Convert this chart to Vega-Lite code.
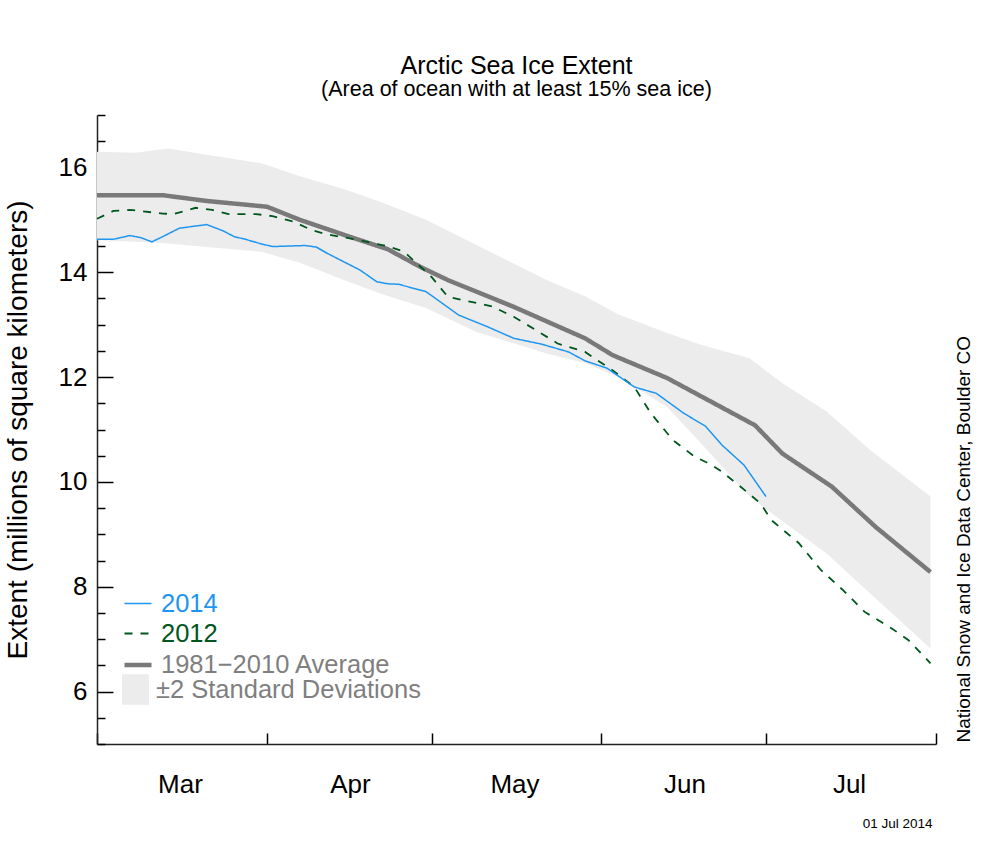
{
  "$schema": "https://vega.github.io/schema/vega-lite/v6.json",
  "width": 839,
  "height": 629,
  "autosize": {"type": "none"},
  "padding": {"left": 97, "top": 115, "right": 69, "bottom": 100},
  "background": "white",
  "config": {"font": "Liberation Sans", "view": {"stroke": null}, "axis": {"grid": false}},
  "title": {
    "text": "Arctic Sea Ice Extent",
    "subtitle": "(Area of ocean with at least 15% sea ice)",
    "fontSize": 25,
    "fontWeight": "normal",
    "subtitleFontSize": 21.5,
    "color": "black",
    "subtitleColor": "black",
    "anchor": "middle",
    "offset": 2,
    "subtitlePadding": 0
  },
  "datasets": {
    "band": [
      {"date": "2014-03-01", "lo": 14.61, "hi": 16.30},
      {"date": "2014-03-08", "lo": 14.58, "hi": 16.28},
      {"date": "2014-03-14", "lo": 14.55, "hi": 16.36},
      {"date": "2014-03-21", "lo": 14.48, "hi": 16.24},
      {"date": "2014-03-31", "lo": 14.39, "hi": 16.08},
      {"date": "2014-04-07", "lo": 14.18, "hi": 15.83},
      {"date": "2014-04-15", "lo": 13.85, "hi": 15.59},
      {"date": "2014-04-22", "lo": 13.58, "hi": 15.33},
      {"date": "2014-04-30", "lo": 13.32, "hi": 15.00},
      {"date": "2014-05-09", "lo": 12.87, "hi": 14.53},
      {"date": "2014-05-22", "lo": 12.45, "hi": 13.85},
      {"date": "2014-05-29", "lo": 12.27, "hi": 13.54},
      {"date": "2014-06-04", "lo": 12.00, "hi": 13.20},
      {"date": "2014-06-13", "lo": 11.43, "hi": 12.84},
      {"date": "2014-06-19", "lo": 10.75, "hi": 12.62},
      {"date": "2014-06-28", "lo": 9.72, "hi": 12.36},
      {"date": "2014-07-04", "lo": 9.25, "hi": 11.88},
      {"date": "2014-07-12", "lo": 8.64, "hi": 11.35},
      {"date": "2014-07-20", "lo": 7.87, "hi": 10.61},
      {"date": "2014-07-31", "lo": 6.82, "hi": 9.72}
    ],
    "lines": [
      {"series": "1981−2010 Average", "date": "2014-03-01", "value": 15.47},
      {"series": "1981−2010 Average", "date": "2014-03-13", "value": 15.47},
      {"series": "1981−2010 Average", "date": "2014-03-21", "value": 15.36},
      {"series": "1981−2010 Average", "date": "2014-04-01", "value": 15.25},
      {"series": "1981−2010 Average", "date": "2014-04-07", "value": 15.00},
      {"series": "1981−2010 Average", "date": "2014-04-16", "value": 14.68},
      {"series": "1981−2010 Average", "date": "2014-04-23", "value": 14.44},
      {"series": "1981−2010 Average", "date": "2014-04-29", "value": 14.10},
      {"series": "1981−2010 Average", "date": "2014-05-04", "value": 13.85},
      {"series": "1981−2010 Average", "date": "2014-05-16", "value": 13.34},
      {"series": "1981−2010 Average", "date": "2014-05-29", "value": 12.74},
      {"series": "1981−2010 Average", "date": "2014-06-03", "value": 12.42},
      {"series": "1981−2010 Average", "date": "2014-06-13", "value": 11.98},
      {"series": "1981−2010 Average", "date": "2014-06-29", "value": 11.08},
      {"series": "1981−2010 Average", "date": "2014-07-04", "value": 10.54},
      {"series": "1981−2010 Average", "date": "2014-07-13", "value": 9.91},
      {"series": "1981−2010 Average", "date": "2014-07-21", "value": 9.14},
      {"series": "1981−2010 Average", "date": "2014-07-31", "value": 8.28},
      {"series": "2012", "date": "2014-03-01", "value": 15.02},
      {"series": "2012", "date": "2014-03-04", "value": 15.17},
      {"series": "2012", "date": "2014-03-07", "value": 15.19},
      {"series": "2012", "date": "2014-03-13", "value": 15.12},
      {"series": "2012", "date": "2014-03-15", "value": 15.11},
      {"series": "2012", "date": "2014-03-19", "value": 15.23},
      {"series": "2012", "date": "2014-03-22", "value": 15.19},
      {"series": "2012", "date": "2014-03-25", "value": 15.11},
      {"series": "2012", "date": "2014-03-30", "value": 15.11},
      {"series": "2012", "date": "2014-04-02", "value": 15.07},
      {"series": "2012", "date": "2014-04-06", "value": 14.96},
      {"series": "2012", "date": "2014-04-09", "value": 14.81},
      {"series": "2012", "date": "2014-04-12", "value": 14.72},
      {"series": "2012", "date": "2014-04-17", "value": 14.63},
      {"series": "2012", "date": "2014-04-21", "value": 14.54},
      {"series": "2012", "date": "2014-04-23", "value": 14.50},
      {"series": "2012", "date": "2014-04-26", "value": 14.39},
      {"series": "2012", "date": "2014-04-28", "value": 14.20},
      {"series": "2012", "date": "2014-05-01", "value": 13.91},
      {"series": "2012", "date": "2014-05-04", "value": 13.53},
      {"series": "2012", "date": "2014-05-08", "value": 13.44},
      {"series": "2012", "date": "2014-05-12", "value": 13.35},
      {"series": "2012", "date": "2014-05-16", "value": 13.15},
      {"series": "2012", "date": "2014-05-20", "value": 12.90},
      {"series": "2012", "date": "2014-05-24", "value": 12.64},
      {"series": "2012", "date": "2014-05-29", "value": 12.48},
      {"series": "2012", "date": "2014-06-03", "value": 12.13},
      {"series": "2012", "date": "2014-06-07", "value": 11.81},
      {"series": "2012", "date": "2014-06-10", "value": 11.31},
      {"series": "2012", "date": "2014-06-14", "value": 10.80},
      {"series": "2012", "date": "2014-06-18", "value": 10.48},
      {"series": "2012", "date": "2014-06-21", "value": 10.33},
      {"series": "2012", "date": "2014-06-23", "value": 10.19},
      {"series": "2012", "date": "2014-06-26", "value": 9.94},
      {"series": "2012", "date": "2014-06-30", "value": 9.59},
      {"series": "2012", "date": "2014-07-02", "value": 9.27},
      {"series": "2012", "date": "2014-07-07", "value": 8.83},
      {"series": "2012", "date": "2014-07-11", "value": 8.32},
      {"series": "2012", "date": "2014-07-15", "value": 7.94},
      {"series": "2012", "date": "2014-07-19", "value": 7.52},
      {"series": "2012", "date": "2014-07-24", "value": 7.20},
      {"series": "2012", "date": "2014-07-27", "value": 6.98},
      {"series": "2012", "date": "2014-07-31", "value": 6.54},
      {"series": "2014", "date": "2014-03-01", "value": 14.63},
      {"series": "2014", "date": "2014-03-04", "value": 14.63},
      {"series": "2014", "date": "2014-03-07", "value": 14.70},
      {"series": "2014", "date": "2014-03-09", "value": 14.66},
      {"series": "2014", "date": "2014-03-11", "value": 14.58},
      {"series": "2014", "date": "2014-03-13", "value": 14.68},
      {"series": "2014", "date": "2014-03-16", "value": 14.84},
      {"series": "2014", "date": "2014-03-21", "value": 14.91},
      {"series": "2014", "date": "2014-03-24", "value": 14.79},
      {"series": "2014", "date": "2014-03-26", "value": 14.68},
      {"series": "2014", "date": "2014-03-28", "value": 14.63},
      {"series": "2014", "date": "2014-03-31", "value": 14.54},
      {"series": "2014", "date": "2014-04-02", "value": 14.49},
      {"series": "2014", "date": "2014-04-08", "value": 14.51},
      {"series": "2014", "date": "2014-04-10", "value": 14.48},
      {"series": "2014", "date": "2014-04-12", "value": 14.36},
      {"series": "2014", "date": "2014-04-15", "value": 14.20},
      {"series": "2014", "date": "2014-04-18", "value": 14.04},
      {"series": "2014", "date": "2014-04-21", "value": 13.82},
      {"series": "2014", "date": "2014-04-23", "value": 13.78},
      {"series": "2014", "date": "2014-04-25", "value": 13.77},
      {"series": "2014", "date": "2014-04-30", "value": 13.63},
      {"series": "2014", "date": "2014-05-06", "value": 13.18},
      {"series": "2014", "date": "2014-05-11", "value": 12.97},
      {"series": "2014", "date": "2014-05-16", "value": 12.74},
      {"series": "2014", "date": "2014-05-21", "value": 12.63},
      {"series": "2014", "date": "2014-05-26", "value": 12.48},
      {"series": "2014", "date": "2014-05-29", "value": 12.31},
      {"series": "2014", "date": "2014-06-02", "value": 12.17},
      {"series": "2014", "date": "2014-06-07", "value": 11.81},
      {"series": "2014", "date": "2014-06-11", "value": 11.69},
      {"series": "2014", "date": "2014-06-16", "value": 11.31},
      {"series": "2014", "date": "2014-06-20", "value": 11.06},
      {"series": "2014", "date": "2014-06-23", "value": 10.70},
      {"series": "2014", "date": "2014-06-27", "value": 10.32},
      {"series": "2014", "date": "2014-07-01", "value": 9.72}
    ]
  },
  "layer": [
    {
      "data": {"name": "band"},
      "mark": {"type": "area", "opacity": 1},
      "encoding": {
        "x": {
          "field": "date",
          "type": "temporal",
          "scale": {"type": "utc", "domain": [{"year": 2014, "month": 3, "date": 1, "utc": true}, {"year": 2014, "month": 8, "date": 1, "utc": true}]},
          "axis": {
            "orient": "bottom",
            "values": [
              {"year": 2014, "month": 3, "date": 1, "utc": true},
              {"year": 2014, "month": 4, "date": 1, "utc": true},
              {"year": 2014, "month": 5, "date": 1, "utc": true},
              {"year": 2014, "month": 6, "date": 1, "utc": true},
              {"year": 2014, "month": 7, "date": 1, "utc": true},
              {"year": 2014, "month": 8, "date": 1, "utc": true}
            ],
            "labelExpr": "utcmonth(datum.value) == 7 ? '' : utcFormat(datum.value, '%b')",
            "tickSize": -11,
            "tickWidth": 1.5,
            "tickColor": "black",
            "domainColor": "#222222",
            "domainWidth": 1.5,
            "labelOffset": 83,
            "labelPadding": 38,
            "labelFontSize": 26,
            "labelColor": "black",
            "labelFlush": false,
            "labelOverlap": false,
            "labelBound": false,
            "grid": false,
            "title": "01 Jul 2014",
            "titleFontSize": 13.5,
            "titleFontWeight": "normal",
            "titleColor": "black",
            "titleAnchor": "end",
            "titleAlign": "right",
            "titleBaseline": "middle",
            "titleX": 835,
            "titleY": 79
          }
        },
        "y": {
          "field": "lo",
          "type": "quantitative",
          "scale": {"domain": [5, 17], "nice": false, "zero": false},
          "axis": {
            "orient": "right",
            "labels": false,
            "ticks": false,
            "domain": false,
            "grid": false,
            "title": "National Snow and Ice Data Center, Boulder CO",
            "titleFontSize": 19,
            "titleFontWeight": "normal",
            "titleColor": "black",
            "titleAngle": 270,
            "titleAlign": "left",
            "titleBaseline": "middle",
            "titleX": 27,
            "titleY": 627
          }
        },
        "y2": {"field": "hi"},
        "fill": {
          "datum": "±2 Standard Deviations",
          "type": "nominal",
          "scale": {"range": ["#ececec"]},
          "legend": {
            "title": null,
            "orient": "none",
            "legendX": 25,
            "legendY": 561,
            "padding": 0,
            "symbolType": "M-1,-1.13H1V1.13H-1Z",
            "symbolSize": 729,
            "symbolStrokeWidth": 0,
            "labelFontSize": 25.5,
            "labelOffset": 7,
            "labelColor": "#7f7f7f",
            "labelLimit": 400
          }
        }
      }
    },
    {
      "data": {"name": "lines"},
      "mark": {"type": "line"},
      "encoding": {
        "x": {
          "field": "date",
          "type": "temporal",
          "scale": {"type": "utc", "domain": [{"year": 2014, "month": 3, "date": 1, "utc": true}, {"year": 2014, "month": 8, "date": 1, "utc": true}]}
        },
        "y": {
          "field": "value",
          "type": "quantitative",
          "scale": {"domain": [5, 17], "nice": false, "zero": false},
          "axis": {
            "orient": "left",
            "values": [5, 5.5, 6, 6.5, 7, 7.5, 8, 8.5, 9, 9.5, 10, 10.5, 11, 11.5, 12, 12.5, 13, 13.5, 14, 14.5, 15, 15.5, 16, 16.5, 17],
            "labelExpr": "datum.value % 2 == 0 ? format(datum.value, 'd') : ''",
            "tickSize": {"condition": {"test": "datum.value % 2 == 0", "value": -16}, "value": -8},
            "tickWidth": 1.5,
            "tickColor": "black",
            "domainColor": "#222222",
            "domainWidth": 1.5,
            "labelFontSize": 26,
            "labelColor": "black",
            "labelPadding": 26,
            "labelOverlap": false,
            "labelBound": false,
            "labelFlush": false,
            "grid": false,
            "title": "Extent (millions of square kilometers)",
            "titleFontSize": 28,
            "titleFontWeight": "normal",
            "titleColor": "black",
            "titleAngle": 270,
            "titleBaseline": "middle",
            "titleAlign": "center",
            "titleX": -79,
            "titleY": 314.5
          }
        },
        "color": {
          "field": "series",
          "type": "nominal",
          "scale": {"domain": ["2014", "2012", "1981−2010 Average"], "range": ["#1e96f0", "#00561e", "#797979"]},
          "legend": {
            "title": null,
            "orient": "none",
            "legendX": 25,
            "legendY": 474,
            "padding": 0,
            "symbolType": "M-1,0H1",
            "symbolSize": 729,
            "labelFontSize": 25.5,
            "labelOffset": 7,
            "labelLimit": 400,
            "labelColor": {"expr": "datum.value == '2014' ? '#1e96f0' : datum.value == '2012' ? '#00561e' : '#7f7f7f'"}
          }
        },
        "strokeDash": {
          "field": "series",
          "type": "nominal",
          "scale": {"domain": ["2014", "2012", "1981−2010 Average"], "range": [[1, 0], [8, 8], [1, 0]]}
        },
        "strokeWidth": {
          "field": "series",
          "type": "ordinal",
          "scale": {"type": "ordinal", "domain": ["2014", "2012", "1981−2010 Average"], "range": [1.5, 1.8, 4.5]}
        }
      }
    }
  ],
  "resolve": {"axis": {"y": "independent"}}
}
